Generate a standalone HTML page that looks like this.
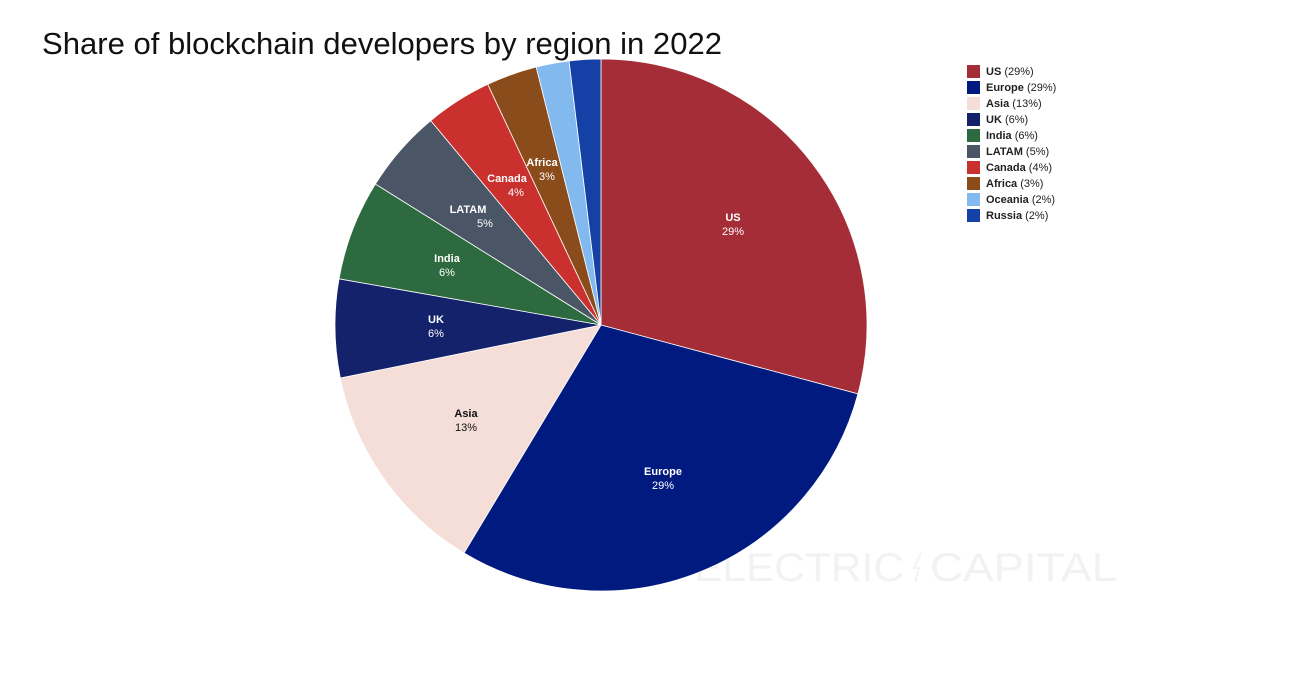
<!DOCTYPE html>
<html><head><meta charset="utf-8"><style>
body{margin:0;background:#fff;width:1310px;height:680px;overflow:hidden;font-family:"Liberation Sans",sans-serif}
</style></head><body>
<svg id="s" width="1310" height="680" xmlns="http://www.w3.org/2000/svg">
<text x="42" y="54" font-size="31" fill="#111" textLength="680" lengthAdjust="spacingAndGlyphs" font-family="Liberation Sans, sans-serif">Share of blockchain developers by region in 2022</text>
<text x="694" y="581" font-size="40" fill="#f2f2f2" textLength="210" lengthAdjust="spacingAndGlyphs" font-family="Liberation Sans, sans-serif">ELECTRIC</text>
<path d="M921,553 L914,568 L919,568 L915,582" stroke="#eef4fa" stroke-width="2" fill="none"/>
<text x="930" y="581" font-size="40" fill="#f2f2f2" textLength="187" lengthAdjust="spacingAndGlyphs" font-family="Liberation Sans, sans-serif">CAPITAL</text>
<g id="pie"></g>
<g font-size="11" text-anchor="middle" font-family="Liberation Sans, sans-serif">
<text x="733" y="221" fill="#fff" font-weight="bold">US</text><text x="733" y="235" fill="#fff">29%</text>
<text x="663" y="475" fill="#fff" font-weight="bold">Europe</text><text x="663" y="489" fill="#fff">29%</text>
<text x="466" y="417" fill="#111" font-weight="bold">Asia</text><text x="466" y="431" fill="#111">13%</text>
<text x="436" y="323" fill="#fff" font-weight="bold">UK</text><text x="436" y="337" fill="#fff">6%</text>
<text x="447" y="262" fill="#fff" font-weight="bold">India</text><text x="447" y="276" fill="#fff">6%</text>
<text x="468" y="213" fill="#fff" font-weight="bold">LATAM</text><text x="485" y="227" fill="#fff">5%</text>
<text x="507" y="182" fill="#fff" font-weight="bold">Canada</text><text x="516" y="196" fill="#fff">4%</text>
<text x="542" y="166" fill="#fff" font-weight="bold">Africa</text><text x="547" y="180" fill="#fff">3%</text>
</g>
<g id="leg" font-size="11" font-family="Liberation Sans, sans-serif" fill="#222">
<text x="986" y="75"><tspan font-weight="bold">US</tspan> (29%)</text>
<text x="986" y="91"><tspan font-weight="bold">Europe</tspan> (29%)</text>
<text x="986" y="107"><tspan font-weight="bold">Asia</tspan> (13%)</text>
<text x="986" y="123"><tspan font-weight="bold">UK</tspan> (6%)</text>
<text x="986" y="139"><tspan font-weight="bold">India</tspan> (6%)</text>
<text x="986" y="155"><tspan font-weight="bold">LATAM</tspan> (5%)</text>
<text x="986" y="171"><tspan font-weight="bold">Canada</tspan> (4%)</text>
<text x="986" y="187"><tspan font-weight="bold">Africa</tspan> (3%)</text>
<text x="986" y="203"><tspan font-weight="bold">Oceania</tspan> (2%)</text>
<text x="986" y="219"><tspan font-weight="bold">Russia</tspan> (2%)</text>
</g>
</svg>
<script>
var cols=["#a52d37","#001a80","#f5ddd8","#13226a","#2d6a3f","#4a5565","#c9302e","#8b4c1c","#82b9ee","#1541a6"];
var ends=[105,211,258.5,280,302,320.2,334.8,345.9,353.1,360];
var cx=601,cy=325,r=266,a0=0,h="",lg="";
function pt(a){var t=a*Math.PI/180;return (cx+r*Math.sin(t)).toFixed(2)+","+(cy-r*Math.cos(t)).toFixed(2);}
for(var i=0;i<10;i++){var a1=ends[i];
h+='<path d="M'+cx+','+cy+' L'+pt(a0)+' A'+r+','+r+' 0 '+((a1-a0)>180?1:0)+' 1 '+pt(a1)+' Z" fill="'+cols[i]+'" stroke="#fff" stroke-width="0.8"/>';
lg+='<rect x="967" y="'+(65+16*i)+'" width="13" height="13" fill="'+cols[i]+'"/>';a0=a1;}
document.getElementById("pie").innerHTML=h;
document.getElementById("leg").insertAdjacentHTML("afterbegin",lg);
</script>
</body></html>
